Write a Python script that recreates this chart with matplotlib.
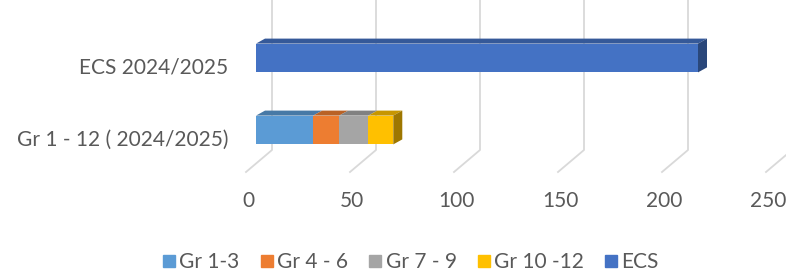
import matplotlib
matplotlib.use("Agg")
import matplotlib.pyplot as plt
import numpy as np
from matplotlib.patches import Polygon
from matplotlib.lines import Line2D
from matplotlib.transforms import ScaledTranslation, IdentityTransform

plt.rcParams["font.family"] = ["Lato", "DejaVu Sans"]

# ---------- data ----------
categories = ["Gr 1 - 12 ( 2024/2025)", "ECS 2024/2025"]
series = ["Gr 1-3", "Gr 4 - 6", "Gr 7 - 9", "Gr 10 -12", "ECS"]
colors = ["#5B9BD5", "#ED7D31", "#A5A5A5", "#FFC000", "#4472C4"]
# values per series, one per category (Gr row, ECS row)
gr_1_3 = [27.5, 0]
gr_4_6 = [12.5, 0]
gr_7_9 = [14, 0]
gr_10_12 = [12, 0]
ecs = [0, 212.5]
values = [gr_1_3, gr_4_6, gr_7_9, gr_10_12, ecs]
xticks = [0, 50, 100, 150, 200, 250]

TXT = "#595959"
FS = 15
W, H, DPI = 7.86, 2.73, 100
DX, DY = 9, 5          # bar depth (px)
WX, WY = 16, 16        # wall offset from bar front plane (px)
FX, FY = -10, -6       # floor front offset from bar front plane (px)


def shade(c, f):
    rgb = np.array(matplotlib.colors.to_rgb(c))
    return tuple(rgb * f)


fig = plt.figure(figsize=(W, H), dpi=DPI)
ax = fig.add_axes([256 / 786, 107 / 273, 520 / 786, 144 / 273])
ax.set_xlim(0, 250)
ax.set_ylim(-0.5, 1.5)
for s in ax.spines.values():
    s.set_visible(False)
ax.patch.set_alpha(0)

ypos = np.arange(len(categories))
bh = 0.4
T = ax.transData


def d(x, y):
    return T.transform((x, y))


# ---------- wall grid + floor lines ----------
for v in xticks:
    x0, yb = d(v, -0.5)
    top = H * DPI
    wall_y = yb + WY
    ln = Line2D([x0 + WX, x0 + WX, x0 + FX], [top, wall_y, yb + FY],
                transform=IdentityTransform(), color="#D9D9D9", lw=1.3, zorder=0)
    fig.add_artist(ln)

# ---------- bars (front faces via barh, depth faces from data) ----------
left = np.zeros(len(categories))
for name, vals, c in zip(series, values, colors):
    vals = np.array(vals, dtype=float)
    ax.barh(ypos, vals, left=left, height=bh, color=c, label=name, zorder=3)
    for i, v in enumerate(vals):
        if v <= 0:
            continue
        xa, yt = d(left[i], ypos[i] + bh / 2)
        xb, _ = d(left[i] + v, ypos[i] + bh / 2)
        topface = Polygon([(xa, yt), (xb, yt), (xb + DX, yt + DY), (xa + DX, yt + DY)],
                          closed=True, transform=IdentityTransform(),
                          facecolor=shade(c, 0.78), edgecolor="none", zorder=4)
        fig.add_artist(topface)
    left += vals

# right side face of each bar
for i in range(len(categories)):
    xr, yt = d(left[i], ypos[i] + bh / 2)
    _, yb = d(left[i], ypos[i] - bh / 2)
    last = [k for k in range(len(series)) if values[k][i] > 0][-1]
    side = Polygon([(xr, yb), (xr, yt), (xr + DX, yt + DY), (xr + DX, yb + DY)],
                   closed=True, transform=IdentityTransform(),
                   facecolor=shade(colors[last], 0.62), edgecolor="none", zorder=4)
    fig.add_artist(side)

# ---------- ticks ----------
ax.set_yticks(ypos)
ax.set_yticklabels(categories, fontsize=FS, color=TXT)
ax.tick_params(axis="y", length=0, pad=20)
for lbl in ax.get_yticklabels():
    lbl.set_transform(lbl.get_transform() + ScaledTranslation(0, -8 / DPI, fig.dpi_scale_trans))
ax.set_xticks(xticks)
ax.set_xticklabels([str(t) for t in xticks], fontsize=FS, color=TXT)
ax.tick_params(axis="x", length=0, pad=18)
for lbl in ax.get_xticklabels():
    lbl.set_transform(lbl.get_transform() + ScaledTranslation(-8 / DPI, 0, fig.dpi_scale_trans))

# ---------- legend ----------
handles = [Line2D([], [], marker="s", ls="none", markersize=8, color=c) for c in colors]
fig.legend(handles, series, loc="center", bbox_to_anchor=(0.52, 0.04), ncol=5,
           frameon=False, fontsize=FS, labelcolor=TXT, handletextpad=0.0,
           columnspacing=0.8, handlelength=1.0)

fig.savefig("out.png", dpi=DPI)
